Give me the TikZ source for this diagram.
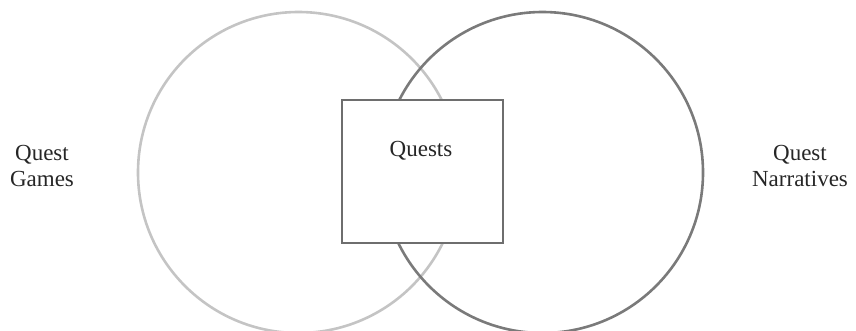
\documentclass[tikz,border=0pt]{standalone}
\usepackage{fontspec}
\setmainfont{Liberation Serif}
\definecolor{lightring}{HTML}{C4C4C4}
\definecolor{darkring}{HTML}{7A7A7A}
\definecolor{boxline}{HTML}{6E6E6E}
\definecolor{txt}{HTML}{262626}
\begin{document}
\begin{tikzpicture}[x=1pt,y=-1pt,
  ring/.style={circle, minimum size=321pt, inner sep=0pt, line width=2.6pt},
  qbox/.style={rectangle, draw=boxline, fill=white, line width=1.8pt, minimum width=161pt, minimum height=143pt, inner sep=0pt},
  lbl/.style={font=\fontsize{23}{25.5}\selectfont, text=txt, align=center, inner sep=0pt}]
\useasboundingbox (0,0) rectangle (856,330);
\clip (0,0) rectangle (856,330);
\node[ring, draw=lightring] (games) at (298.5,172.5) {};
\node[ring, draw=darkring] (narr) at (542.5,172.5) {};
\node[qbox] (quests) at (422.5,171.5) {};
\node[lbl] (qt) at (421,151) {Quests};
\node[lbl] (lg) at (42,166) {Quest\\Games};
\node[lbl] (rn) at (800,166) {Quest\\Narratives};
\end{tikzpicture}
\end{document}
